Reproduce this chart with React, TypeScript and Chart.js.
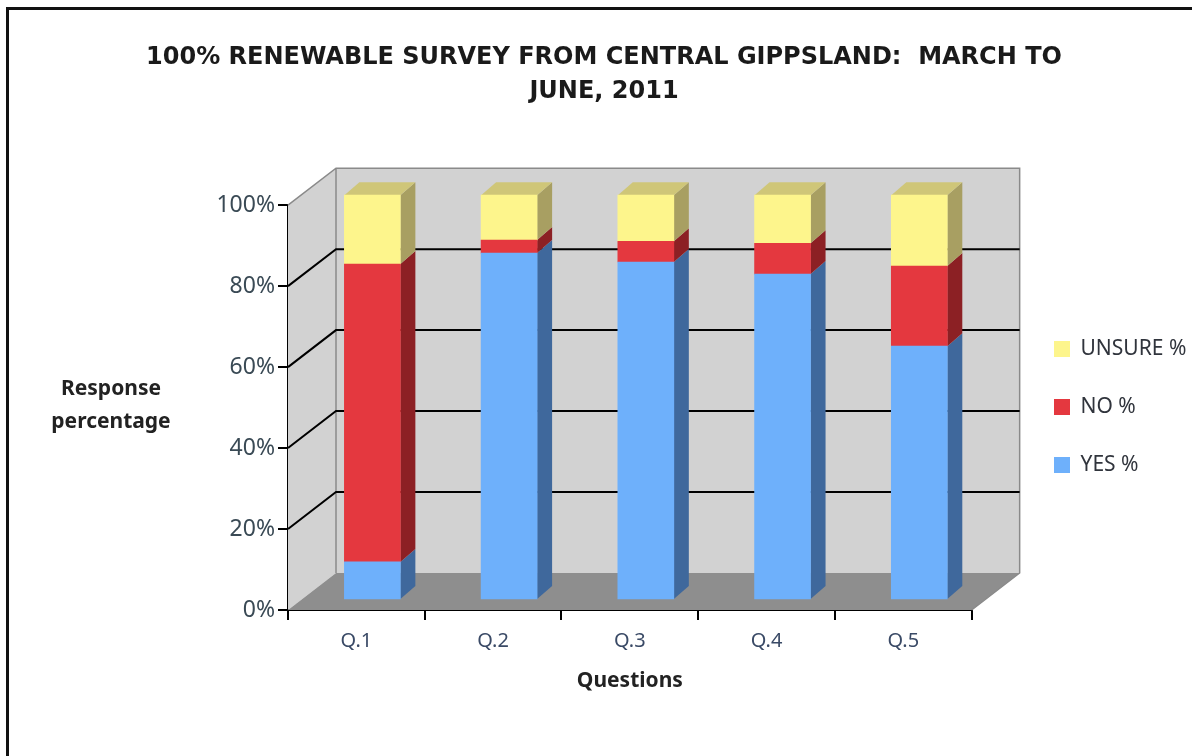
import React, { useEffect, useRef } from "react";
import { Chart, registerables } from "chart.js";

Chart.register(...registerables);

const categories = ["Q.1", "Q.2", "Q.3", "Q.4", "Q.5"];
const yesValues = [9.4, 85.7, 83.5, 80.5, 62.7];
const noValues = [73.6, 3.2, 5.1, 7.6, 19.8];
const unsureValues = [17.0, 11.1, 11.4, 11.9, 17.5];
const titleLines = ["100% RENEWABLE SURVEY FROM CENTRAL GIPPSLAND:  MARCH TO", "JUNE, 2011"];
const xTitle = "Questions";
const yTitleLines = ["Response", "percentage"];

const FONT = "'Noto Sans', sans-serif";
const TITLE_FONT = "'DejaVu Sans', sans-serif";
const sideColors = ["#3f689c", "#8c2024", "#a89f62"];
const topColors = ["#5a8fd0", "#b02a2e", "#cfc678"];

const BACK_DX = 48;
const BACK_DY = -37;
const BAR_DX = 16;
const BAR_DY = -10;
const DEPTH_DX = 15;
const DEPTH_DY = -13;

function poly(ctx: CanvasRenderingContext2D, pts: number[][], fill: string) {
  ctx.beginPath();
  pts.forEach((p, i) => (i ? ctx.lineTo(p[0], p[1]) : ctx.moveTo(p[0], p[1])));
  ctx.closePath();
  ctx.fillStyle = fill;
  ctx.fill();
}

const box3d = {
  id: "box3d",
  afterLayout(chart: any) {
    const lg = chart.legend;
    if (lg) {
      const h = lg.bottom - lg.top;
      lg.left = 1017;
      lg.right = 1017 + lg.width;
      const top = 407 - h / 2;
      lg.top = top;
      lg.bottom = top + h;
    }
  },
  beforeDatasetsDraw(chart: any) {
    const { ctx, chartArea: a, scales } = chart;
    const y = scales.y;
    ctx.save();
    poly(ctx, [[a.left, a.top], [a.left + BACK_DX, a.top + BACK_DY], [a.left + BACK_DX, a.bottom + BACK_DY], [a.left, a.bottom]], "#d2d2d2");
    poly(ctx, [[a.left + BACK_DX, a.top + BACK_DY], [a.right + BACK_DX, a.top + BACK_DY], [a.right + BACK_DX, a.bottom + BACK_DY], [a.left + BACK_DX, a.bottom + BACK_DY]], "#d2d2d2");
    poly(ctx, [[a.left, a.bottom], [a.left + BACK_DX, a.bottom + BACK_DY], [a.right + BACK_DX, a.bottom + BACK_DY], [a.right, a.bottom]], "#8e8e8e");
    ctx.strokeStyle = "#8a8a8a";
    ctx.lineWidth = 1.5;
    ctx.beginPath();
    ctx.moveTo(a.left, a.top);
    ctx.lineTo(a.left + BACK_DX, a.top + BACK_DY);
    ctx.lineTo(a.right + BACK_DX, a.top + BACK_DY);
    ctx.lineTo(a.right + BACK_DX, a.bottom + BACK_DY);
    ctx.lineTo(a.right, a.bottom);
    ctx.moveTo(a.left + BACK_DX, a.top + BACK_DY);
    ctx.lineTo(a.left + BACK_DX, a.bottom + BACK_DY);
    ctx.stroke();
    ctx.strokeStyle = "#000000";
    ctx.lineWidth = 2;
    y.ticks.forEach((t: any) => {
      if (t.value === 0 || t.value === 100) return;
      const p = y.getPixelForValue(t.value);
      ctx.beginPath();
      ctx.moveTo(a.left, p);
      ctx.lineTo(a.left + BACK_DX, p + BACK_DY);
      ctx.lineTo(a.right + BACK_DX, p + BACK_DY);
      ctx.stroke();
    });
    ctx.restore();
    ctx.save();
    ctx.translate(BAR_DX, BAR_DY);
    chart.data.datasets.forEach((_: any, i: number) => {
      chart.getDatasetMeta(i).data.forEach((el: any) => {
        const r = el.x + el.width / 2;
        const l = el.x - el.width / 2;
        poly(ctx, [[r, el.y], [r + DEPTH_DX, el.y + DEPTH_DY], [r + DEPTH_DX, el.base + DEPTH_DY], [r, el.base]], sideColors[i]);
        if (i === chart.data.datasets.length - 1) {
          poly(ctx, [[l, el.y], [l + DEPTH_DX, el.y + DEPTH_DY], [r + DEPTH_DX, el.y + DEPTH_DY], [r, el.y]], topColors[i]);
        }
      });
    });
  },
  afterDatasetsDraw(chart: any) {
    chart.ctx.restore();
  },
  afterDraw(chart: any) {
    const { ctx, chartArea: a } = chart;
    const text: string[] = chart.options.scales.y.title.text;
    ctx.save();
    ctx.font = `bold 21px ${FONT}`;
    ctx.fillStyle = "#222222";
    ctx.textAlign = "center";
    ctx.textBaseline = "middle";
    text.forEach((s, i) => ctx.fillText(s, 111, (a.top + a.bottom) / 2 - 2 + (i - 0.5) * 33));
    ctx.restore();
  },
};

export default function App() {
  const ref = useRef<HTMLCanvasElement | null>(null);
  useEffect(() => {
    const chart = new Chart(ref.current as HTMLCanvasElement, {
      type: "bar",
      data: {
        labels: categories,
        datasets: [
          { label: "YES %", data: yesValues, backgroundColor: "#6eb0fb", clip: false },
          { label: "NO %", data: noValues, backgroundColor: "#e4383f", clip: false },
          { label: "UNSURE %", data: unsureValues, backgroundColor: "#fdf58c", clip: false },
        ],
      } as any,
      options: {
        responsive: false,
        animation: false,
        devicePixelRatio: 1,
        layout: { padding: { top: 20, left: 57, right: 41, bottom: 56 } },
        datasets: { bar: { barThickness: 56, borderWidth: 0 } },
        scales: {
          x: {
            stacked: true,
            afterFit: (s: any) => {
              s.height = 90;
            },
            grid: { display: true, drawOnChartArea: false, drawTicks: true, tickLength: 10, color: "#000000", lineWidth: 2 },
            border: { display: true, color: "#000000", width: 2 },
            ticks: { color: "#3a4a66", font: { family: FONT, size: 20 }, padding: 9 },
            title: { display: true, text: xTitle, color: "#222222", font: { family: FONT, size: 21, weight: "bold" }, padding: { top: 10, bottom: 6 } },
          },
          y: {
            stacked: true,
            min: 0,
            max: 100,
            afterFit: (s: any) => {
              s.width = 231;
            },
            grid: { display: true, drawOnChartArea: false, drawTicks: true, tickLength: 10, color: "#000000", lineWidth: 2 },
            border: { display: true, color: "#000000", width: 2 },
            ticks: { stepSize: 20, color: "#3a4a55", font: { family: FONT, size: 23 }, padding: 3, callback: (v: any) => `${v}%` },
            title: { display: false, text: yTitleLines },
          },
        },
        plugins: {
          title: {
            display: true,
            text: titleLines,
            color: "#1a1a1a",
            font: { family: TITLE_FONT, size: 24, weight: "bold", lineHeight: 1.42 },
            padding: { top: 21, bottom: 96 },
          },
          legend: {
            position: "right",
            reverse: true,
            labels: { boxWidth: 16, boxHeight: 16, color: "#30343c", font: { family: FONT, size: 21 }, padding: 37 },
          },
          tooltip: { enabled: false },
        },
      } as any,
      plugins: [box3d] as any,
    });
    return () => chart.destroy();
  }, []);
  return (
    <div style={{ position: "absolute", left: 0, top: 0, width: 1192, height: 756, overflow: "hidden", background: "#ffffff" }}>
      <canvas ref={ref} width={1192} height={756} style={{ display: "block", filter: "blur(0.7px)" }} />
      <div style={{ position: "absolute", left: 6, top: 7, width: 1186, height: 749, borderLeft: "3px solid #111", borderTop: "3px solid #111" }} />
    </div>
  );
}
